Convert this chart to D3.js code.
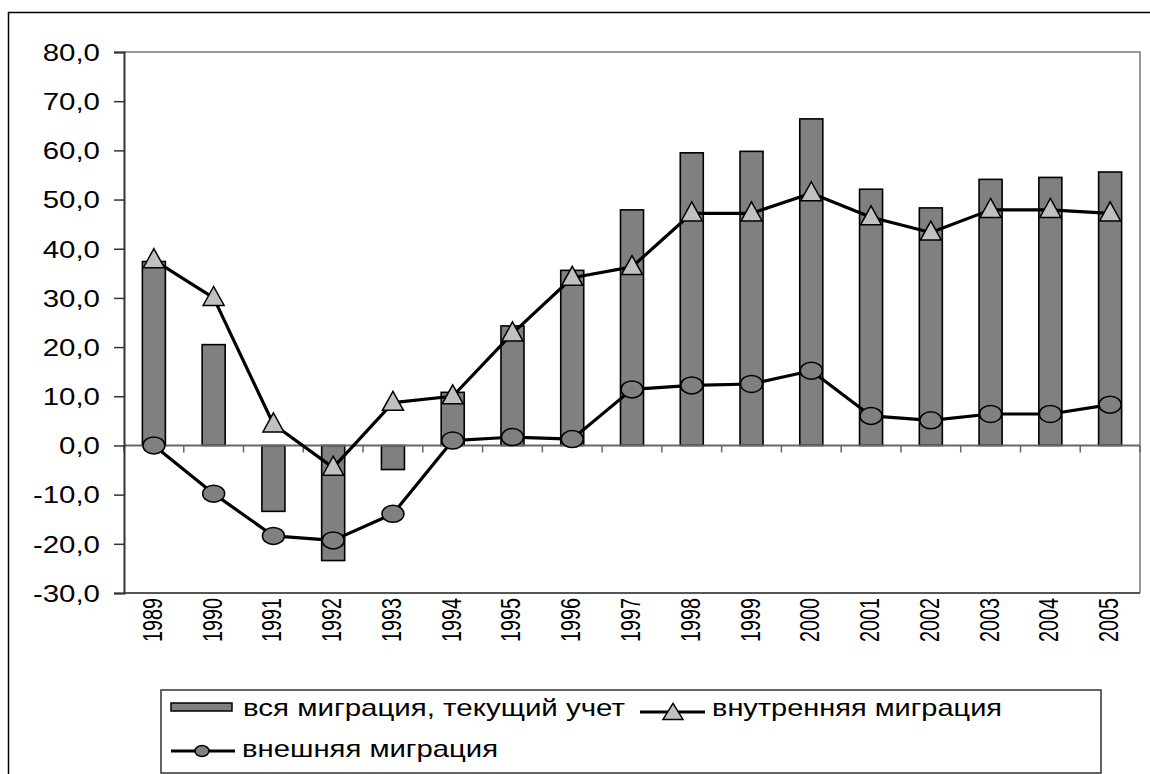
<!DOCTYPE html>
<html>
<head>
<meta charset="utf-8">
<script src="https://cdn.jsdelivr.net/npm/d3@7"></script>
<style>
  html, body { margin: 0; padding: 0; background: #fff; overflow: hidden; }
  svg { display: block; }
  text { font-family: "Liberation Sans", Arial, sans-serif; fill: #000; }
</style>
</head>
<body>
<svg id="chart" width="1150" height="774"></svg>
<script>
// ---- Data ----
const years = ["1989","1990","1991","1992","1993","1994","1995","1996","1997","1998","1999","2000","2001","2002","2003","2004","2005"];
const allMigration = [37.4, 20.5, -13.4, -23.4, -4.9, 10.8, 24.3, 35.6, 47.9, 59.5, 59.8, 66.4, 52.1, 48.3, 54.1, 54.5, 55.6];
const internalMigration = [37.7, 30.0, 4.3, -4.5, 8.7, 10.0, 22.8, 34.1, 36.3, 47.2, 47.2, 51.3, 46.4, 43.3, 47.9, 47.9, 47.2];
const externalMigration = [0.0, -9.8, -18.4, -19.3, -13.9, 1.0, 1.7, 1.3, 11.4, 12.2, 12.5, 15.2, 6.0, 5.1, 6.4, 6.4, 8.3];
const yTicks = [-30, -20, -10, 0, 10, 20, 30, 40, 50, 60, 70, 80];
const seriesNames = ["вся миграция, текущий учет", "внутренняя миграция", "внешняя миграция"];

// ---- Layout ----
const svg = d3.select("#chart");
const plot = { left: 124, right: 1140, top: 52, bottom: 593 };
const SX = 1.28; // horizontal text stretch of the original picture
const fontSize = 23;

// outer frame
svg.append("rect").attr("x", 8.5).attr("y", 12.5).attr("width", 1300).attr("height", 900)
  .attr("fill", "none").attr("stroke", "#000").attr("stroke-width", 1.5);

const x = d3.scaleBand().domain(years).range([plot.left, plot.right]).padding(0);
const y = d3.scaleLinear().domain([-30, 80]).range([plot.bottom, plot.top]);

// plot area border (gray top/right)
svg.append("path")
  .attr("d", `M${plot.left},${plot.top}H${plot.right}V${plot.bottom}`)
  .attr("fill", "none").attr("stroke", "#999").attr("stroke-width", 2);
svg.append("line")
  .attr("x1", plot.left).attr("x2", plot.right).attr("y1", plot.bottom).attr("y2", plot.bottom)
  .attr("stroke", "#555").attr("stroke-width", 2);

// ---- Bars ----
const barW = x.bandwidth() * 0.385;
svg.append("g").selectAll("rect").data(allMigration).join("rect")
  .attr("x", (d, i) => x(years[i]) + x.bandwidth() / 2 - barW / 2)
  .attr("width", barW)
  .attr("y", d => y(Math.max(0, d)))
  .attr("height", d => Math.abs(y(d) - y(0)))
  .attr("fill", "#808080").attr("stroke", "#000").attr("stroke-width", 1.6);

// ---- Category axis at zero ----
const catAxis = svg.append("g");
catAxis.append("line")
  .attr("x1", plot.left).attr("x2", plot.right).attr("y1", y(0)).attr("y2", y(0))
  .attr("stroke", "#666").attr("stroke-width", 2);
catAxis.selectAll("line.tk").data(years.concat(["end"])).join("line").attr("class", "tk")
  .attr("x1", d => d === "end" ? plot.right : x(d))
  .attr("x2", d => d === "end" ? plot.right : x(d))
  .attr("y1", y(0)).attr("y2", y(0) + 7)
  .attr("stroke", "#666").attr("stroke-width", 1.5);

// ---- Value axis ----
const yAxis = d3.axisLeft(y).tickValues(yTicks).tickSize(10)
  .tickFormat(d => d.toFixed(1).replace(".", ","));
const ya = svg.append("g").attr("transform", `translate(${plot.left},0)`).call(yAxis);
ya.select(".domain").attr("stroke", "#333").attr("stroke-width", 2);
ya.selectAll(".tick line").attr("stroke", "#333").attr("stroke-width", 1.5);
ya.selectAll(".tick text")
  .attr("x", null).attr("dy", "0.36em")
  .attr("transform", `translate(-24,0) scale(${SX},1)`)
  .attr("text-anchor", "end")
  .style("font-size", fontSize + "px").style("font-family", "'Liberation Sans', Arial, sans-serif")
  .attr("fill", "#000");

// year labels
svg.append("g").selectAll("text").data(years).join("text")
  .attr("transform", d => `translate(${x(d) + x.bandwidth() / 2 + 8},598) scale(1.4,1) rotate(-90)`)
  .attr("text-anchor", "end")
  .style("font-size", "19.8px")
  .text(d => d);

// ---- Lines ----
const line = d3.line().x((d, i) => x(years[i]) + x.bandwidth() / 2).y(d => y(d));
svg.append("path").datum(internalMigration).attr("d", line)
  .attr("fill", "none").attr("stroke", "#000").attr("stroke-width", 3.2).attr("stroke-linejoin", "round");
svg.append("path").datum(externalMigration).attr("d", line)
  .attr("fill", "none").attr("stroke", "#000").attr("stroke-width", 3.2).attr("stroke-linejoin", "round");

// triangle markers
const triPath = (w, h) => `M0,${-h * 0.6}L${w / 2},${h * 0.4}L${-w / 2},${h * 0.4}Z`;
svg.append("g").selectAll("path").data(internalMigration).join("path")
  .attr("transform", (d, i) => `translate(${x(years[i]) + x.bandwidth() / 2},${y(d)})`)
  .attr("d", triPath(21, 19))
  .attr("fill", "#c0c0c0").attr("stroke", "#000").attr("stroke-width", 1.5);

// circle markers (slightly elliptical)
svg.append("g").selectAll("ellipse").data(externalMigration).join("ellipse")
  .attr("cx", (d, i) => x(years[i]) + x.bandwidth() / 2)
  .attr("cy", d => y(d))
  .attr("rx", 11).attr("ry", 8.5)
  .attr("fill", "#808080").attr("stroke", "#000").attr("stroke-width", 1.5);

// ---- Legend ----
const lg = svg.append("g");
lg.append("rect").attr("x", 161).attr("y", 690).attr("width", 940).attr("height", 83)
  .attr("fill", "#fff").attr("stroke", "#333").attr("stroke-width", 1.5);

const legendText = (tx, ty, s, w) => lg.append("text")
  .attr("transform", `translate(${tx},${ty})`)
  .attr("textLength", w).attr("lengthAdjust", "spacingAndGlyphs")
  .style("font-size", "24px").text(s);

// row 1: bar swatch
lg.append("rect").attr("x", 171).attr("y", 703).attr("width", 61).attr("height", 8)
  .attr("fill", "#808080").attr("stroke", "#000").attr("stroke-width", 1.5);
legendText(243, 716, seriesNames[0], 382);

// row 1: line + triangle
lg.append("line").attr("x1", 640).attr("x2", 705).attr("y1", 712).attr("y2", 712)
  .attr("stroke", "#000").attr("stroke-width", 3.2);
lg.append("path").attr("transform", "translate(673,713)").attr("d", triPath(20, 16))
  .attr("fill", "#c0c0c0").attr("stroke", "#000").attr("stroke-width", 1.5);
legendText(712, 716, seriesNames[1], 290);

// row 2: line + circle
lg.append("line").attr("x1", 171).attr("x2", 235).attr("y1", 751).attr("y2", 751)
  .attr("stroke", "#000").attr("stroke-width", 3.2);
lg.append("ellipse").attr("cx", 202).attr("cy", 751).attr("rx", 7).attr("ry", 5.5)
  .attr("fill", "#808080").attr("stroke", "#000").attr("stroke-width", 1.5);
legendText(242, 757, seriesNames[2], 256);
</script>
</body>
</html>
